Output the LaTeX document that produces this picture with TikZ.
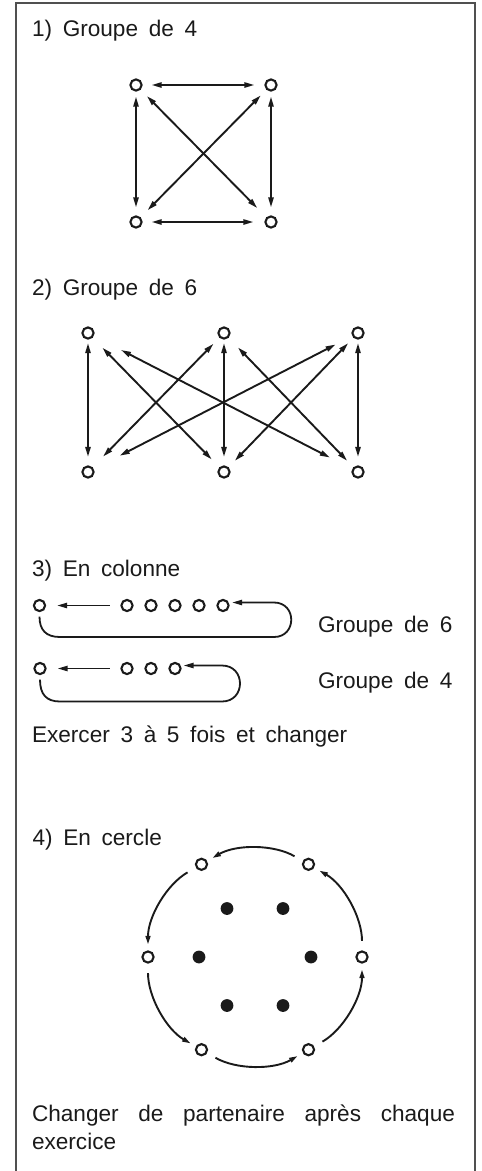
\documentclass[tikz,border=0pt]{standalone}
\usepackage{fontspec}
\setmainfont{Liberation Sans}[WordSpace=1.7]
\usetikzlibrary{arrows.meta}
\definecolor{ink}{HTML}{1A1A1A}
\definecolor{framec}{HTML}{505050}
\begin{document}
\begin{tikzpicture}[x=1pt,y=1pt,
  open/.style={circle,draw=ink,line width=2.1pt,minimum size=11.2pt,inner sep=0pt,outer sep=0pt},
  full/.style={circle,fill=ink,minimum size=12.8pt,inner sep=0pt,outer sep=0pt},
  both/.style={draw=ink,line width=1.9pt,{Triangle[length=10pt,width=5.2pt]}-{Triangle[length=10pt,width=5.2pt]}},
  one/.style={draw=ink,line width=1.8pt,-{Triangle[length=10pt,width=5.2pt]}},
  circ/.style={draw=ink,line width=1.9pt,-{Triangle[length=8.5pt,width=4.8pt]}},
  sh/.style 2 args={shorten <=#1pt, shorten >=#2pt},
  lbl/.style={anchor=base west,inner sep=0pt,outer sep=0pt,text=ink,font=\fontsize{22.6}{28}\selectfont},
  framel/.style={draw=framec,line width=2pt}
]
\useasboundingbox (0,0) rectangle (482,-1171);
\draw[framel] (16,-1171) -- (16,-3.3) -- (475,-3.3) -- (475,-1171);

% ---------- 1) Groupe de 4
\node[lbl] (t1) at (32,-36.7) {1) Groupe de 4};
\node[open] (a1) at (136,-85) {};
\node[open] (a2) at (271,-85) {};
\node[open] (a3) at (136,-222) {};
\node[open] (a4) at (271,-222) {};
\draw[both,sh={10}{11}] (a1) -- (a2);
\draw[both,sh={6}{9}] (a1) -- (a3);
\draw[both,sh={6}{9}] (a2) -- (a4);
\draw[both,sh={10}{14}] (a1) -- (a4);
\draw[both,sh={9}{11}] (a2) -- (a3);
\draw[both,sh={10}{12}] (a3) -- (a4);

% ---------- 2) Groupe de 6
\node[lbl] (t2) at (32,-295) {2) Groupe de 6};
\node[open] (u0) at (88,-333) {};
\node[open] (u1) at (224,-333) {};
\node[open] (u2) at (358,-333) {};
\node[open] (v0) at (88,-472) {};
\node[open] (v1) at (224,-472) {};
\node[open] (v2) at (358,-472) {};
\draw[both,sh={4.5}{9.5}] (u0) -- (v0);
\draw[both,sh={4.5}{9.5}] (u1) -- (v1);
\draw[both,sh={4.5}{9.5}] (u2) -- (v2);
\draw[both,sh={15}{12}] (u0) -- (v1);
\draw[both,sh={31.5}{26}] (u0) -- (v2);
\draw[both,sh={9.5}{16}] (u1) -- (v0);
\draw[both,sh={14.5}{10}] (u1) -- (v2);
\draw[both,sh={19.5}{30}] (u2) -- (v0);
\draw[both,sh={8.5}{10}] (u2) -- (v1);

% ---------- 3) En colonne
\node[lbl] (t3) at (32,-576) {3) En colonne};
\node[open] (l1) at (39.5,-605.5) {};
\node[open] (c1) at (127,-605.5) {};
\node[open] (c2) at (151,-605.5) {};
\node[open] (c3) at (175,-605.5) {};
\node[open] (c4) at (199,-605.5) {};
\node[open] (c5) at (223,-605.5) {};
\draw[one,sh={11.5}{12}] (c1) -- (l1);
\draw[one,sh={5.5}{3.5}] (l1.south) .. controls (39.5,-630) and (46,-637) .. (60,-637) -- (274,-637)
  .. controls (297,-637) and (297,-602.5) .. (274,-602.5) -- ([yshift=3pt]c5.east);
\node[lbl] (g6) at (318,-632) {Groupe de 6};

\node[open] (l2) at (40,-668.5) {};
\node[open] (d1) at (127,-668.5) {};
\node[open] (d2) at (151,-668.5) {};
\node[open] (d3) at (175,-668.5) {};
\draw[one,sh={11.5}{12}] (d1) -- (l2);
\draw[one,sh={5.5}{3}] (l2.south) .. controls (40,-694) and (46,-701.5) .. (60,-701.5) -- (222,-701.5)
  .. controls (246,-701.5) and (246,-665.5) .. (222,-665.5) -- ([yshift=3pt]d3.east);
\node[lbl] (g4) at (318,-688) {Groupe de 4};
\node[lbl] (ex) at (32,-742.5) {Exercer 3 à 5 fois et changer};

% ---------- 4) En cercle
\node[lbl] (t4) at (32.5,-845) {4) En cercle};
\node[open] (p0) at (362,-957) {};
\node[open] (p1) at (308.5,-864.3) {};
\node[open] (p2) at (201.5,-864.3) {};
\node[open] (p3) at (148,-957) {};
\node[open] (p4) at (201.5,-1049.7) {};
\node[open] (p5) at (308.5,-1049.7) {};
\draw[circ,sh={10.5}{7}] (p0) to[bend right=30,looseness=0.91] (p1);
\draw[circ,sh={10.5}{7}] (p1) to[bend right=30,looseness=0.91] (p2);
\draw[circ,sh={10.5}{7}] (p2) to[bend right=30,looseness=0.91] (p3);
\draw[circ,sh={10.5}{7}] (p3) to[bend right=30,looseness=0.91] (p4);
\draw[circ,sh={10.5}{7}] (p4) to[bend right=30,looseness=0.91] (p5);
\draw[circ,sh={10.5}{7}] (p5) to[bend right=30,looseness=0.91] (p0);
\node[full] (q1) at (227,-908.5) {};
\node[full] (q2) at (283,-908.5) {};
\node[full] (q3) at (199,-957) {};
\node[full] (q4) at (311,-957) {};
\node[full] (q5) at (227,-1005.5) {};
\node[full] (q6) at (283,-1005.5) {};

\node[lbl] (ch1) at (32,-1121) {\makebox[423pt][s]{Changer de partenaire après chaque}};
\node[lbl] (ch2) at (32,-1149) {exercice};
\end{tikzpicture}
\end{document}
